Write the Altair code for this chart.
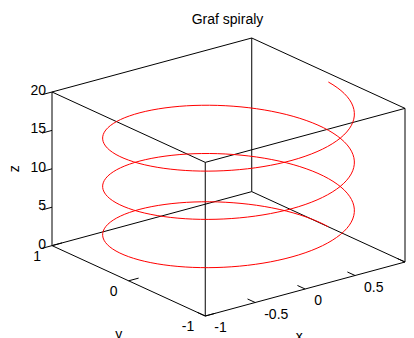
import numpy as np
import pandas as pd
import altair as alt

TITLE = "Graf spiraly"
FONT = "Liberation Sans"

# Helix: x = cos(t), y = sin(t), z = t for t in [0, 6*pi]
T_END = 6 * np.pi
N_POINTS = 301

# Axis limits and ticks
X_LIM = [-1, 1]
Y_LIM = [-1, 1]
Z_LIM = [0, 20]
X_TICKS = [-1, -0.5, 0, 0.5, 1]
X_TICK_LABELS = ["-1", "-0.5", "0", "0.5"]
Y_TICKS = [-1, 0, 1]
Y_TICK_LABELS = ["-1", "0", "1"]
Z_TICKS = [0, 5, 10, 15, 20]
Z_TICK_LABELS = ["0", "5", "10", "15", "20"]

# Default 3-D view (azimuth, elevation) in degrees
AZ, EL = -37.5, 30.0

PLOT_W, PLOT_H = 353, 278


def project(x, y, z):
    """Orthographic projection of the normalised plot box onto the screen plane."""
    a, e = np.radians(AZ), np.radians(EL)
    xn = (np.asarray(x, float) - np.mean(X_LIM)) / (np.ptp(X_LIM) / 2)
    yn = (np.asarray(y, float) - np.mean(Y_LIM)) / (np.ptp(Y_LIM) / 2)
    zn = (np.asarray(z, float) - np.mean(Z_LIM)) / (np.ptp(Z_LIM) / 2)
    u = np.cos(a) * xn + np.sin(a) * yn
    v = np.sin(e) * (-np.sin(a) * xn + np.cos(a) * yn) + np.cos(e) * zn
    return u, v


U = abs(np.cos(np.radians(AZ))) + abs(np.sin(np.radians(AZ)))
V = np.sin(np.radians(EL)) * U + np.cos(np.radians(EL))

# Helix curve
t = np.linspace(0, T_END, N_POINTS)
hu, hv = project(np.cos(t), np.sin(t), t)
helix = pd.DataFrame({"t": t, "u": hu, "v": hv})

# Box edges
corners = [(x, y) for x in X_LIM for y in Y_LIM]
edges = []
for z in Z_LIM:
    for (x0, y0), (x1, y1) in [((-1, -1), (1, -1)), ((1, -1), (1, 1)),
                               ((1, 1), (-1, 1)), ((-1, 1), (-1, -1))]:
        edges.append((x0, y0, z, x1, y1, z))
for x, y in corners:
    edges.append((x, y, Z_LIM[0], x, y, Z_LIM[1]))
e = np.array(edges, float)
eu0, ev0 = project(e[:, 0], e[:, 1], e[:, 2])
eu1, ev1 = project(e[:, 3], e[:, 4], e[:, 5])
box = pd.DataFrame({"u": eu0, "v": ev0, "u2": eu1, "v2": ev1})

# Tick marks (short segments along the plot box edges)
TL = 0.05
segs = []
for xv in X_TICKS:
    segs.append((xv, -1, 0, xv, -1 + TL * 2, 0))
for yv in Y_TICKS:
    segs.append((-1, yv, 0, -1 + TL * 2, yv, 0))
for zv in Z_TICKS:
    segs.append((-1, 1, zv, -1 - TL * 2, 1, zv))
s = np.array(segs, float)
su0, sv0 = project(s[:, 0], s[:, 1], s[:, 2])
su1, sv1 = project(s[:, 3], s[:, 4], s[:, 5])
ticks = pd.DataFrame({"u": su0, "v": sv0, "u2": su1, "v2": sv1})

# Tick labels
n_xl = len(X_TICK_LABELS)
xl_u, xl_v = project(X_TICKS[:n_xl], [-1] * n_xl, [0] * n_xl)
x_labels = pd.DataFrame({"u": xl_u, "v": xl_v, "label": X_TICK_LABELS})
yl_u, yl_v = project([-1] * len(Y_TICKS), Y_TICKS, [0] * len(Y_TICKS))
y_labels = pd.DataFrame({"u": yl_u, "v": yl_v, "label": Y_TICK_LABELS})
zl_u, zl_v = project([-1] * len(Z_TICKS), [1] * len(Z_TICKS), Z_TICKS)
z_labels = pd.DataFrame({"u": zl_u, "v": zl_v, "label": Z_TICK_LABELS})

# Axis titles, anchored at the middle of each axis edge
ax_u, ax_v = project([0], [-1], [0])
yx_u, yx_v = project([-1], [0], [0])
zx_u, zx_v = project([-1], [1], [10])
axis_titles_x = pd.DataFrame({"u": ax_u, "v": ax_v, "label": ["x"]})
axis_titles_y = pd.DataFrame({"u": yx_u, "v": yx_v, "label": ["y"]})
axis_titles_z = pd.DataFrame({"u": zx_u, "v": zx_v, "label": ["z"]})
title_df = pd.DataFrame({"label": [TITLE]})

xs = alt.Scale(domain=[-U, U], nice=False, zero=False)
ys = alt.Scale(domain=[-V, V], nice=False, zero=False)
X = alt.X("u:Q", scale=xs, axis=None)
Y = alt.Y("v:Q", scale=ys, axis=None)

box_layer = alt.Chart(box).mark_rule(color="#000000", strokeWidth=1).encode(
    x=X, y=Y, x2="u2:Q", y2="v2:Q")
tick_layer = alt.Chart(ticks).mark_rule(color="#000000", strokeWidth=1).encode(
    x=X, y=Y, x2="u2:Q", y2="v2:Q")
helix_layer = alt.Chart(helix).mark_line(color="#ff0000", strokeWidth=1).encode(
    x=X, y=Y, order="t:Q")


def text_layer(df, **kw):
    return alt.Chart(df).mark_text(font=FONT, fontSize=14, color="#000000", **kw).encode(
        x=X, y=Y, text="label:N")


x_lab = text_layer(x_labels, align="left", baseline="middle", dx=9, dy=12)
y_lab = text_layer(y_labels, align="right", baseline="middle", dx=-11, dy=11)
z_lab = text_layer(z_labels, align="right", baseline="middle", dx=-6, dy=-1)
x_tit = text_layer(axis_titles_x, align="center", baseline="alphabetic", dx=-6, dy=52)
y_tit = text_layer(axis_titles_y, align="center", baseline="alphabetic", dx=-10, dy=58)
# rotated text: dy shifts along the screen x direction
z_tit = text_layer(axis_titles_z, align="center", baseline="middle", angle=270, dx=0, dy=-37)

# chart title centred above the plot box
title_layer = alt.Chart(title_df).mark_text(
    font=FONT, fontSize=14, color="#000000", align="center", baseline="alphabetic"
).encode(x=alt.value(PLOT_W / 2 - 1), y=alt.value(-14.5), text="label:N")

chart = alt.layer(
    box_layer, tick_layer, helix_layer, x_lab, y_lab, z_lab, x_tit, y_tit, z_tit, title_layer
).properties(
    width=PLOT_W,
    height=PLOT_H,
    autosize=alt.AutoSizeParams(type="none"),
    padding={"left": 52, "top": 38, "right": 9, "bottom": 22},
    background="white",
).configure_view(stroke=None)

chart.save("out.html", embed_options={"renderer": "svg", "actions": False})
